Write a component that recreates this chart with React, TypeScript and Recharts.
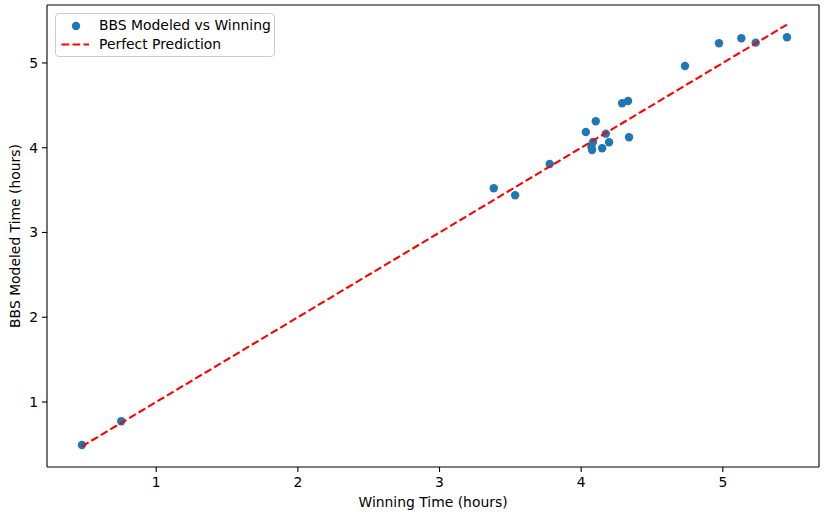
import {
  ScatterChart, Scatter, XAxis, YAxis, ReferenceLine,
} from 'recharts'

// Winning time vs BBS modeled time, hours
const winningTimes = [
  0.476, 0.753, 3.383, 3.534, 3.778, 4.033, 4.103, 4.084, 4.072, 4.077, 4.148,
  4.174, 4.197, 4.289, 4.331, 4.338, 4.733, 4.973, 5.131, 5.232, 5.453,
]
const modeledTimes = [
  0.493, 0.772, 3.522, 3.439, 3.808, 4.186, 4.312, 4.068, 4.013, 3.973, 3.993,
  4.166, 4.064, 4.524, 4.552, 4.123, 4.965, 5.232, 5.291, 5.240, 5.303,
]
const tickValues = [1, 2, 3, 4, 5]

const points = winningTimes.map((w, i) => ({ x: w, y: modeledTimes[i] }))
const lo = Math.min(...winningTimes)
const hi = Math.max(...winningTimes)
const perfectLine = [{ x: lo, y: lo }, { x: hi, y: hi }]

const X_DOMAIN: [number, number] = [0.229, 5.679]
const Y_DOMAIN: [number, number] = [0.233, 5.684]

const FONT = '"DejaVu Sans", sans-serif'
const BLUE = '#1f77b4'
const RED = '#ff0000'
const DASH = '7.7 3.3'

function LegendBox() {
  return (
    <div style={{
      position: 'absolute', left: 55, top: 13,
      width: 220, height: 44, border: '1px solid #cccccc', borderRadius: 4,
      background: 'rgba(255,255,255,0.8)', fontFamily: FONT, fontSize: 13.9,
      color: '#000', boxSizing: 'border-box',
    }}>
      <svg width={40} height={44} style={{ position: 'absolute', left: 0, top: 0 }}>
        <circle cx={20} cy={12} r={4.2} fill={BLUE} />
        <line x1={5.5} x2={33} y1={30.5} y2={30.5} stroke={RED} strokeWidth={2.1} strokeDasharray={DASH} />
      </svg>
      <div style={{ position: 'absolute', left: 43, top: 1, lineHeight: '20px' }}>BBS Modeled vs Winning</div>
      <div style={{ position: 'absolute', left: 43, top: 20, lineHeight: '20px' }}>Perfect Prediction</div>
    </div>
  )
}

const tickStyle = { fontSize: 13.9, fill: '#000', fontFamily: FONT }

export default function App() {
  return (
    <div style={{ position: 'absolute', left: 0, top: 0, width: 828, height: 516, background: '#fff' }}>
      <ScatterChart width={828} height={516} margin={{ top: 5, right: 9, left: 0, bottom: 0 }}>
        <XAxis
          type="number"
          dataKey="x"
          domain={X_DOMAIN}
          ticks={tickValues}
          allowDataOverflow
          height={49}
          tick={tickStyle}
          tickSize={5}
          tickMargin={5}
          axisLine={{ stroke: '#000', strokeWidth: 1.1 }}
          tickLine={{ stroke: '#000', strokeWidth: 1.1 }}
          label={{
            content: () => (
              <text x={433} y={502} textAnchor="middle" dominantBaseline="central"
                fontSize={13.9} fontFamily={FONT} fill="#000">Winning Time (hours)</text>
            ),
          }}
        />
        <YAxis
          type="number"
          dataKey="y"
          domain={Y_DOMAIN}
          ticks={tickValues}
          allowDataOverflow
          width={47}
          tick={tickStyle}
          tickSize={5}
          tickMargin={4}
          axisLine={{ stroke: '#000', strokeWidth: 1.1 }}
          tickLine={{ stroke: '#000', strokeWidth: 1.1 }}
          label={{
            content: () => (
              <text x={15} y={236} transform="rotate(-90 15 236)" textAnchor="middle"
                dominantBaseline="central" fontSize={13.9} fontFamily={FONT} fill="#000">
                BBS Modeled Time (hours)
              </text>
            ),
          }}
        />
        <ReferenceLine y={Y_DOMAIN[1]} stroke="#000" strokeWidth={1.1} />
        <ReferenceLine x={X_DOMAIN[1]} stroke="#000" strokeWidth={1.1} />
        <Scatter
          name="BBS Modeled vs Winning"
          data={points}
          fill={BLUE}
          shape={(p: any) => <circle cx={p.cx} cy={p.cy} r={4.2} fill={BLUE} />}
          isAnimationActive={false}
        />
        <Scatter
          name="Perfect Prediction"
          data={perfectLine}
          line={{ stroke: RED, strokeWidth: 2.1, strokeDasharray: DASH }}
          shape={() => <g />}
          isAnimationActive={false}
        />
      </ScatterChart>
      <LegendBox />
    </div>
  )
}
